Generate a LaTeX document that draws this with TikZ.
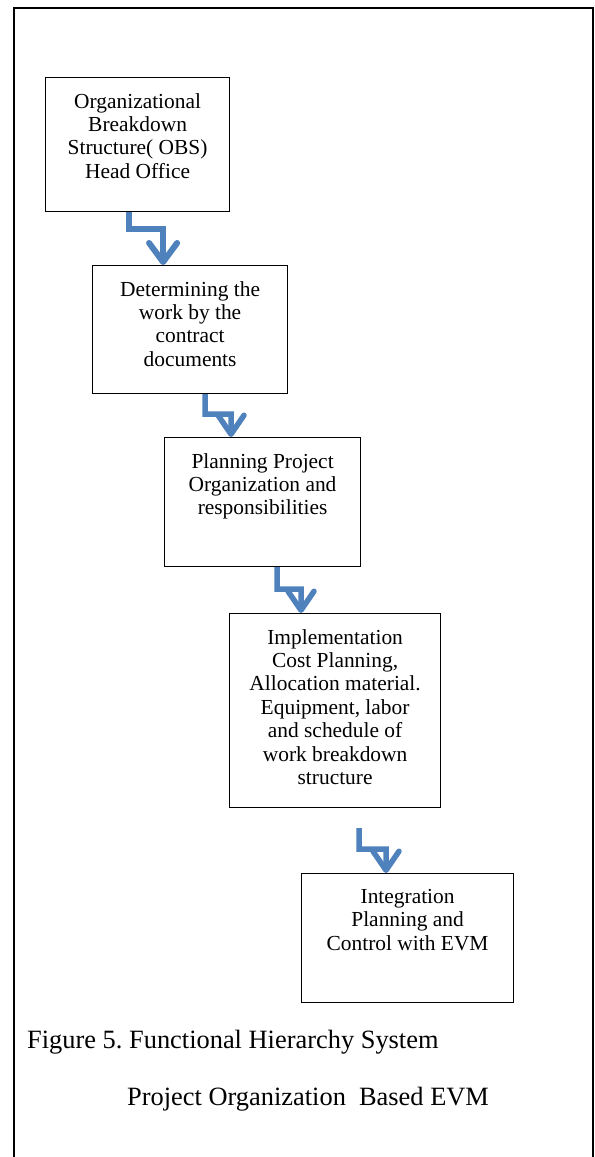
\documentclass[tikz,border=0pt]{standalone}
\usepackage{fontspec}
\setmainfont{Liberation Serif}
\usetikzlibrary{arrows.meta}
\definecolor{flowblue}{HTML}{4F81BD}
\frenchspacing
\begin{document}
\begin{tikzpicture}[x=1bp,y=-1bp,
  stagebox/.style={draw=black,line width=1.2bp,anchor=north west,inner sep=0pt},
  stagetext/.style={anchor=north,align=center,inner sep=0pt,
    font=\fontsize{21.5}{23.5}\selectfont},
  flow/.style={draw=flowblue,line width=5.5bp,
    -{Straight Barb[length=19bp,width=26bp,round]}},
  caption/.style={inner sep=0pt,font=\fontsize{26.5}{30}\selectfont}]
\useasboundingbox (0,0) rectangle (595,1157);
% outer frame, open at the bottom
\draw[line width=2bp] (14,1160) -- (14,7.5) -- (593,7.5) -- (593,1160);
% stage boxes
\node[stagebox,minimum width=184bp,minimum height=134bp] (b1) at (45,77) {};
\node[stagebox,minimum width=195bp,minimum height=128bp] (b2) at (92,265) {};
\node[stagebox,minimum width=196bp,minimum height=129bp] (b3) at (164,437) {};
\node[stagebox,minimum width=211bp,minimum height=194bp] (b4) at (229,613) {};
\node[stagebox,minimum width=212bp,minimum height=129bp] (b5) at (301,873) {};
% stage texts
\node[stagetext] (t1) at ([yshift=-16bp]b1.north) {Organizational\\Breakdown\\Structure( OBS)\\Head Office};
\node[stagetext] (t2) at ([yshift=-16bp]b2.north) {Determining the\\work by the\\contract\\documents};
\node[stagetext] (t3) at ([yshift=-16bp]b3.north) {Planning Project\\Organization and\\responsibilities};
\node[stagetext] (t4) at ([yshift=-16bp]b4.north) {Implementation\\Cost Planning,\\Allocation material.\\Equipment, labor\\and schedule of\\work breakdown\\structure};
\node[stagetext] (t5) at ([yshift=-16bp]b5.north) {Integration\\Planning and\\Control with EVM};
% bent connectors
\draw[flow,line width=6bp,-{Straight Barb[length=19bp,width=28bp,round]}]
  ([xshift=-9bp]b1.south) -- ++(0,17) -| ([xshift=-27bp]b2.north);
\draw[flow] ([xshift=113bp]b2.south west) |- ++(26,20) -- ([xshift=67bp]b3.north west);
\draw[flow] ([xshift=113bp]b3.south west) |- ++(24,22) -- ([xshift=72bp]b4.north west);
\coordinate (s4) at ([xshift=130bp,yshift=-20bp]b4.south west);
\draw[flow] (s4) |- ++(27,21) -- ([xshift=85bp]b5.north west);
% caption
\node[caption,anchor=base west] (c1) at (27,1048) {Figure 5. Functional Hierarchy System};
\node[caption,anchor=base west] (c2) at (127,1105) {Project Organization\ \ Based EVM};
\end{tikzpicture}
\end{document}
